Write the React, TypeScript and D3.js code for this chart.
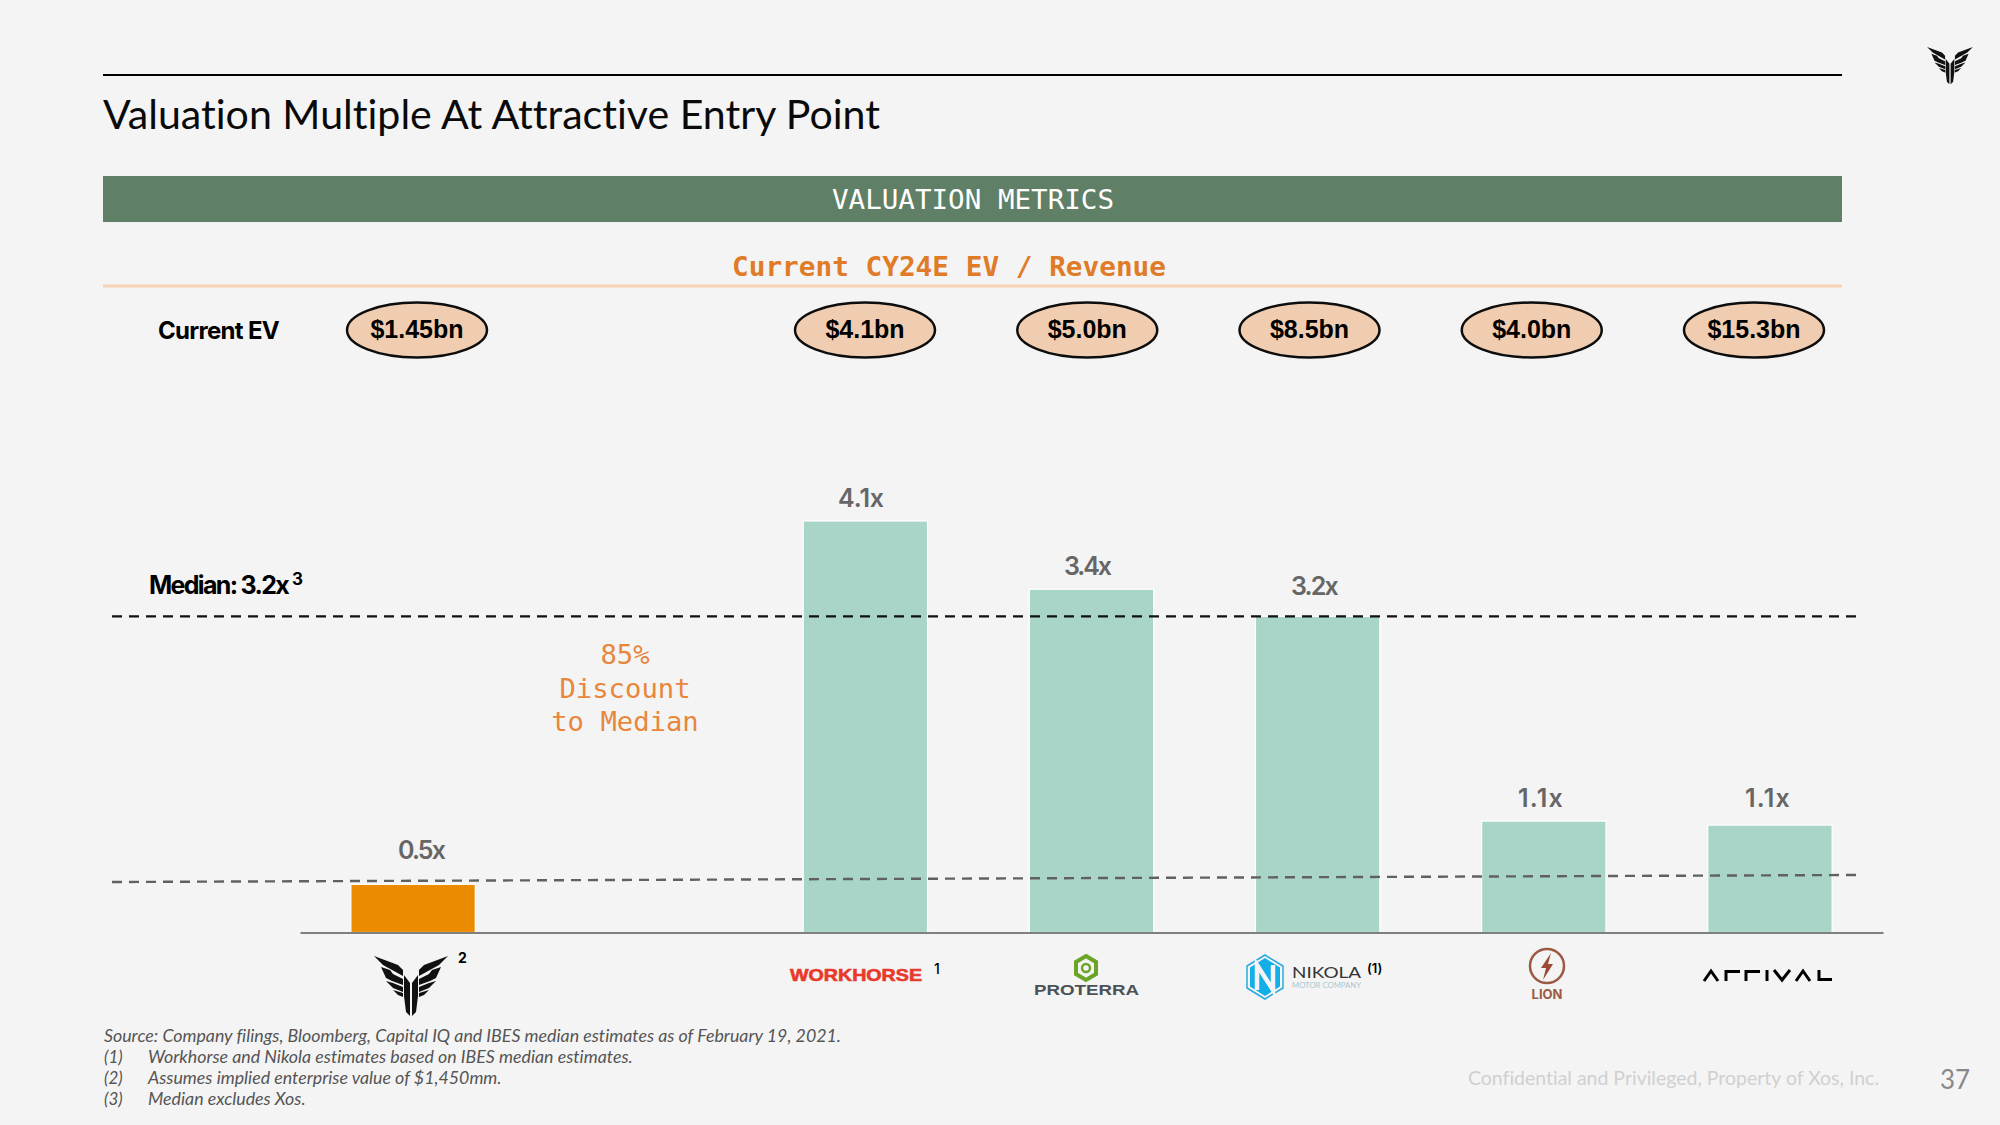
import React, { useEffect, useRef } from 'react';
import * as d3 from 'd3';

// values (bar heights differ slightly from the printed labels)
const companies = ['Xos', 'gap', 'Workhorse', 'Proterra', 'Nikola', 'Lion', 'Arrival'];
const multiples = [0.48, 0, 4.1, 3.42, 3.15, 1.11, 1.07];
const multipleLabels = ['0.5x', '', '4.1x', '3.4x', '3.2x', '1.1x', '1.1x'];
const evLabels = ['$1.45bn', '', '$4.1bn', '$5.0bn', '$8.5bn', '$4.0bn', '$15.3bn'];
const medianLevel = [3.15, 3.15];
const xosLevel = [0.503, 0.573];
const footnoteMarks = ['', '(1)', '(2)', '(3)'];
const footnotes = [
  'Source: Company filings, Bloomberg, Capital IQ and IBES median estimates as of February 19, 2021.',
  'Workhorse and Nikola estimates based on IBES median estimates.',
  'Assumes implied enterprise value of $1,450mm.',
  'Median excludes Xos.',
];
const discountLines = ['85%', 'Discount', 'to Median'];

const MONO = '"DejaVu Sans Mono", monospace';
const SANS = 'Inter, sans-serif';
const LATO = 'Lato, sans-serif';

// half of the Xos mark, mirrored for the other side
const xosHalf = [
  'M-37,0 L-13,9 L-8,14 L-8,20 L-28,9 Z',
  'M-30,11 L-21,14 L-18,18 L-8,23 L-8,29 L-19,25 L-25,22 Z',
  'M-25,25 L-18,27 L-8,31 L-8,36 L-18,32 Z',
  'M-18,34 L-8,37 L-8,41 L-13,39 Z',
  'M-7,19 L-1,27 L-1,60 L-5,56 L-7,40 Z',
];

const drawXos = (g: any, cx: number, top: number, s: number) => {
  const mark = g.append('g').attr('transform', `translate(${cx},${top}) scale(${s})`).attr('fill', '#111');
  xosHalf.forEach((d) => {
    mark.append('path').attr('d', d);
    mark.append('path').attr('d', d).attr('transform', 'scale(-1,1)');
  });
};

const hexPoints = (cx: number, cy: number, rx: number, ry: number) =>
  [
    [cx, cy - ry],
    [cx + rx, cy - ry / 2],
    [cx + rx, cy + ry / 2],
    [cx, cy + ry],
    [cx - rx, cy + ry / 2],
    [cx - rx, cy - ry / 2],
  ]
    .map((p) => p.join(','))
    .join(' ');

const addText = (g: any, str: string, x: number, y: number, size: number, opts: any = {}) => {
  const t = g
    .append('text')
    .attr('x', x)
    .attr('y', y)
    .attr('font-size', size)
    .attr('font-family', opts.family || SANS)
    .attr('font-weight', opts.weight || 400)
    .attr('font-style', opts.style || 'normal')
    .attr('fill', opts.fill || '#000')
    .attr('text-anchor', opts.anchor || 'start')
    .text(str);
  if (opts.length) t.attr('textLength', opts.length).attr('lengthAdjust', 'spacingAndGlyphs');
  // track: squeeze with letter spacing so the box really is this wide
  if (opts.track) {
    const natural = t.node().getComputedTextLength();
    t.attr('letter-spacing', (opts.track - natural) / str.length);
  }
  return t;
};

export default function App() {
  const svgRef = useRef<SVGSVGElement>(null);

  useEffect(() => {
    if (!svgRef.current) return;
    const svg = d3.select(svgRef.current);
    svg.selectAll('*').remove();

    const x = d3.scaleBand<string>().domain(companies).range([300, 1883]).paddingInner(0.45).paddingOuter(0.225);
    const y = d3.scaleLinear().domain([0, 4.1]).range([932.5, 521]);
    const pillX = d3.scaleLinear().domain([0, 2, 6]).range([417, 865, 1754]);
    const lineX = d3.scaleLinear().domain([0, 1]).range([112, 1857]);

    // header
    svg.append('rect').attr('width', 2000).attr('height', 1125).attr('fill', '#f4f4f4');
    svg.append('line').attr('x1', 103).attr('x2', 1842).attr('y1', 75).attr('y2', 75).attr('stroke', '#000').attr('stroke-width', 2);
    addText(svg, 'Valuation Multiple At Attractive Entry Point', 103, 129, 40, { family: LATO, length: 777, fill: '#0a0a0a' });
    svg.append('rect').attr('x', 103).attr('y', 176).attr('width', 1739).attr('height', 46).attr('fill', '#5f7f67');
    addText(svg, 'VALUATION METRICS', 973, 209, 27, { family: MONO, anchor: 'middle', fill: '#fff', length: 282 });
    addText(svg, 'Current CY24E EV / Revenue', 949, 276, 27, { family: MONO, weight: 700, anchor: 'middle', fill: '#e07b28', length: 434 });
    svg.append('line').attr('x1', 103).attr('x2', 1842).attr('y1', 286).attr('y2', 286).attr('stroke', '#f8d3b6').attr('stroke-width', 3);

    // EV pills
    addText(svg, 'Current EV', 158, 339, 24, { weight: 700, track: 121 });
    evLabels.forEach((label, i) => {
      if (!label) return;
      svg.append('ellipse').attr('cx', pillX(i)).attr('cy', 330).attr('rx', 70).attr('ry', 27.5).attr('fill', '#f0cdb0').attr('stroke', '#0d0d0d').attr('stroke-width', 2.5);
      addText(svg, label, pillX(i), 338, 25, { family: '"Liberation Sans", sans-serif', weight: 700, anchor: 'middle' });
    });

    // bars
    svg
      .append('g')
      .selectAll('rect')
      .data(companies.map((c, i) => ({ c, v: multiples[i] })).filter((d) => d.v > 0))
      .join('rect')
      .attr('x', (d) => x(d.c)!)
      .attr('y', (d) => y(d.v))
      .attr('width', x.bandwidth())
      .attr('height', (d) => y(0) - y(d.v))
      .attr('fill', (d) => (d.c === 'Xos' ? '#eb8c00' : '#a8d5c8'))
      .attr('stroke', '#fff')
      .attr('stroke-width', 1.2);

    // reference lines
    const refLine = d3
      .line<number>()
      .x((_, i) => lineX(i))
      .y((d) => y(d));
    svg.append('path').attr('d', refLine(medianLevel)).attr('fill', 'none').attr('stroke', '#111').attr('stroke-width', 2.4).attr('stroke-dasharray', '10,7');
    svg.append('path').attr('d', refLine(xosLevel)).attr('fill', 'none').attr('stroke', '#606060').attr('stroke-width', 2.4).attr('stroke-dasharray', '10,7');

    // axis
    const axis = svg
      .append('g')
      .attr('transform', `translate(0,${y(0)})`)
      .call(d3.axisBottom(x).tickSize(0).tickFormat(() => ''));
    axis.select('.domain').attr('stroke', '#7f7f7f').attr('stroke-width', 2);

    // value labels, nudged like the original slide
    const labelX = [421, 0, 861, 1087, 1314, 1541, 1768];
    const labelGap = [25, 0, 14, 14, 21, 14, 18];
    multipleLabels.forEach((label, i) => {
      if (!label) return;
      addText(svg, label, labelX[i], y(multiples[i]) - labelGap[i], 25, { weight: 600, anchor: 'middle', fill: '#666', track: 46 });
    });

    // annotations
    addText(svg, 'Median: 3.2x', 149, 594, 25, { weight: 700, track: 139 });
    addText(svg, '3', 292, 585, 17, { weight: 700 });
    discountLines.forEach((line, i) => {
      addText(svg, line, 625, 664 + i * 33.5, 27, { family: MONO, anchor: 'middle', fill: '#e8873c', length: line.length * 16.4 });
    });

    // logos
    drawXos(svg, 411, 956, 1);
    addText(svg, '2', 458, 963, 14, { weight: 700 });
    drawXos(svg, 1950, 47, 0.62);

    addText(svg, 'WORKHORSE', 790, 981, 17, { family: '"Liberation Sans", sans-serif', weight: 700, fill: '#e8392a', length: 132 }).attr('stroke', '#e8392a').attr('stroke-width', 0.6);
    addText(svg, '1', 934, 974, 14, { weight: 500 });

    svg.append('polygon').attr('points', hexPoints(1086, 968, 10, 12)).attr('fill', 'none').attr('stroke', '#6aa527').attr('stroke-width', 4);
    svg.append('circle').attr('cx', 1086).attr('cy', 968).attr('r', 4).attr('fill', 'none').attr('stroke', '#6aa527').attr('stroke-width', 2.5);
    addText(svg, 'PROTERRA', 1034, 995, 14, { family: '"Liberation Sans", sans-serif', weight: 700, fill: '#4b5257', length: 105 });

    svg.append('polygon').attr('points', hexPoints(1265, 977, 18, 22)).attr('fill', 'none').attr('stroke', '#29a9e0').attr('stroke-width', 1.5);
    svg.append('polygon').attr('points', hexPoints(1265, 977, 15, 19)).attr('fill', '#13aee8');
    svg.append('path').attr('d', 'M1257,990 V965 L1273,990 V965').attr('fill', 'none').attr('stroke', '#f4f4f4').attr('stroke-width', 4.5);
    addText(svg, 'NIKOLA', 1292, 978, 15, { family: LATO, fill: '#333', length: 69 });
    addText(svg, 'MOTOR COMPANY', 1292, 988, 8, { family: LATO, fill: '#a8c8d0', length: 69 });
    addText(svg, '(1)', 1367, 973, 13, { weight: 600 });

    svg.append('circle').attr('cx', 1547).attr('cy', 966).attr('r', 17).attr('fill', 'none').attr('stroke', '#9c5a45').attr('stroke-width', 2.5);
    svg.append('path').attr('d', 'M1551,953 L1541,968 L1546,968 L1543,980 L1553,964 L1548,964 Z').attr('fill', '#9c4a35');
    addText(svg, 'LION', 1547, 999, 13, { weight: 700, anchor: 'middle', fill: '#9c5a45' });

    // Arrival wordmark glyphs, in a 129x11 box
    const arrival = svg.append('g').attr('transform', 'translate(1703,970)').attr('fill', 'none').attr('stroke', '#000').attr('stroke-width', 3);
    ['M1,11 L8,1 L15,11', 'M23,11 V1.5 H37', 'M43,11 V1.5 H57', 'M64,0 V11', 'M71,0 L79,10 L87,0', 'M93,11 L100,1 L107,11', 'M116,0 V9.5 H129'].forEach((d) =>
      arrival.append('path').attr('d', d)
    );

    // footnotes and footer
    footnotes.forEach((note, i) => {
      const by = 1042 + i * 21;
      if (footnoteMarks[i]) addText(svg, footnoteMarks[i], 104, by, 17, { family: LATO, style: 'italic', fill: '#555' });
      addText(svg, note, i === 0 ? 104 : 148, by, 17.8, { family: LATO, style: 'italic', fill: '#555' });
    });
    addText(svg, 'Confidential and Privileged, Property of Xos, Inc.', 1468, 1085, 20, { family: LATO, fill: '#d0d0d0', length: 411 });
    addText(svg, '37', 1940, 1089, 27, { family: LATO, fill: '#888', length: 30 });
  }, []);

  return (
    <svg
      ref={svgRef}
      width={2000}
      height={1125}
      style={{ position: 'fixed', top: 0, left: 0, display: 'block', fontVariantLigatures: 'none' }}
    />
  );
}
